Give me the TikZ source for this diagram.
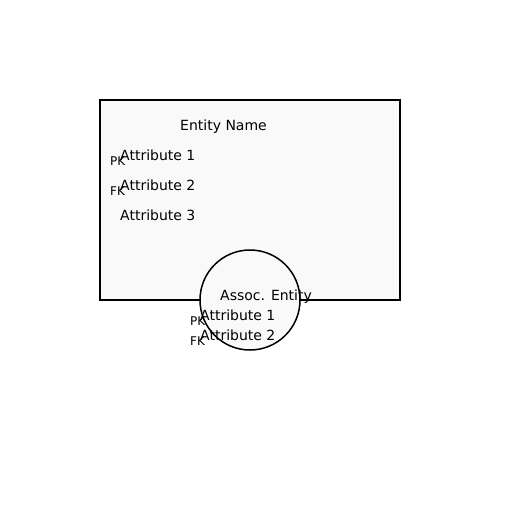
\documentclass[tikz,border=0pt]{standalone}
\usepackage{fontspec}
\setmainfont{DejaVu Sans}
\definecolor{boxfill}{HTML}{F9F9F9}
\begin{document}
\begin{tikzpicture}[x=1pt,y=-1pt,
  shapeline/.style={draw=black,line width=1.5pt,fill=boxfill,outer sep=0pt},
  lbl/.style={anchor=base west,inner sep=0pt,font=\fontsize{14}{16}\selectfont},
  key/.style={anchor=base west,inner sep=0pt,font=\fontsize{12}{14}\selectfont}]
\useasboundingbox (0,0) rectangle (512,512);
\node[shapeline,minimum width=300pt,minimum height=200pt,inner sep=0pt,anchor=north west] (entity) at (100,100) {};
\node[shapeline,circle,minimum size=100pt,inner sep=0pt] (assoc) at (250,300) {};
\node[lbl] (ename) at (180,130) {Entity Name};
\node[lbl] (a1) at (120,160) {Attribute 1};
\node[key] (pk1) at (110,165) {PK};
\node[lbl] (a2) at (120,190) {Attribute 2};
\node[key] (fk1) at (110,195) {FK};
\node[lbl] (a3) at (120,220) {Attribute 3};
\node[lbl] (aname) at (220,300) {Assoc. Entity};
\node[lbl] (b1) at (200,320) {Attribute 1};
\node[key] (pk2) at (190,325) {PK};
\node[lbl] (b2) at (200,340) {Attribute 2};
\node[key] (fk2) at (190,345) {FK};
\end{tikzpicture}
\end{document}
